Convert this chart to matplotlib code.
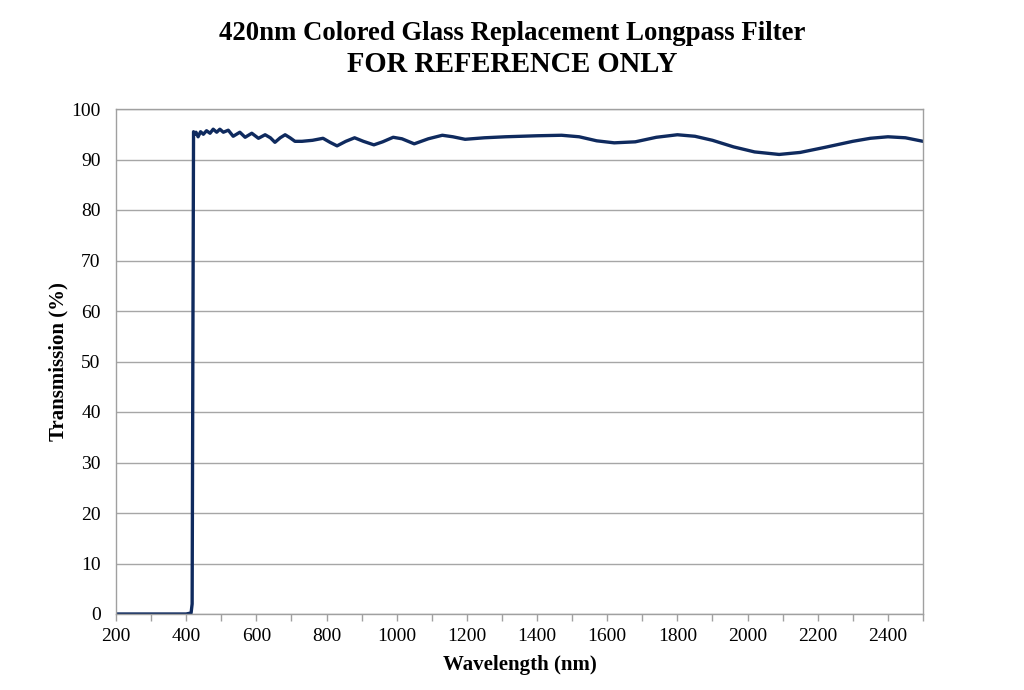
import numpy as np
import matplotlib
matplotlib.use("Agg")
import matplotlib.pyplot as plt
from matplotlib.ticker import MultipleLocator

# wavelength (nm) and transmission (%)
wavelength = [200, 300, 400, 414, 417, 419, 421, 424, 428, 434, 441, 449, 458, 468,
              477, 487, 496, 506, 520, 534, 553, 568, 587, 606, 625, 640, 653, 668,
              682, 696, 710, 730, 760, 790, 810, 830, 855, 880, 905, 935, 960, 990,
              1015, 1050, 1090, 1130, 1160, 1195, 1250, 1310, 1400, 1470, 1520, 1570,
              1620, 1680, 1740, 1800, 1850, 1900, 1960, 2020, 2090, 2150, 2220, 2300,
              2350, 2400, 2450, 2500]
transmission = [0, 0, 0, 0.2, 2, 50, 95.5, 95.0, 95.4, 94.5, 95.5, 95.0, 95.7, 95.2,
                96.0, 95.4, 96.0, 95.4, 95.8, 94.6, 95.4, 94.4, 95.2, 94.2, 94.9, 94.3, 93.4, 94.3,
                94.9, 94.3, 93.6, 93.6, 93.8, 94.2, 93.4, 92.7, 93.6, 94.3, 93.6, 92.9, 93.5, 94.4,
                94.1, 93.1, 94.1, 94.8, 94.5, 94.0, 94.3, 94.5, 94.7, 94.8, 94.5, 93.7,
                93.3, 93.5, 94.4, 94.9, 94.6, 93.8, 92.5, 91.5, 91.0, 91.4, 92.4, 93.6,
                94.2, 94.5, 94.3, 93.6]

title1 = "420nm Colored Glass Replacement Longpass Filter"
title2 = "FOR REFERENCE ONLY"

plt.rcParams['font.family'] = ['Liberation Serif', 'DejaVu Serif']

fig = plt.figure(figsize=(10.24, 6.9), dpi=100)
ax = fig.add_axes([116/1024, 1 - 614/690, (923 - 116)/1024, (614 - 109)/690])

ax.plot(wavelength, transmission, color='#0f2a5e', lw=2.4,
        solid_joinstyle='round', solid_capstyle='round')

ax.set_xlim(200, 2500)
ax.set_ylim(0, 100)
ax.xaxis.set_major_locator(MultipleLocator(200))
ax.xaxis.set_minor_locator(MultipleLocator(100))
ax.yaxis.set_major_locator(MultipleLocator(10))

ax.grid(axis='y', color='#a6a6a6', lw=1.0)
ax.set_axisbelow(True)
for s in ax.spines.values():
    s.set_color('#a0a0a0')
    s.set_linewidth(1.0)

ax.tick_params(axis='x', which='both', direction='out', length=5, width=1,
               color='#a0a0a0', labelsize=14, pad=5)
ax.tick_params(axis='y', which='both', length=0, labelsize=14, pad=11)

ax.set_xlabel("Wavelength (nm)", fontsize=15, fontweight='bold', labelpad=7)
ax.set_ylabel("Transmission (%)", fontsize=15, fontweight='bold', labelpad=2)

fig.text(0.5, 1 - 33/690, title1, ha='center', va='center', fontsize=19.3, fontweight='bold')
fig.text(0.5, 1 - 64/690, title2, ha='center', va='center', fontsize=20.6, fontweight='bold')

fig.savefig("out.png", dpi=100)
